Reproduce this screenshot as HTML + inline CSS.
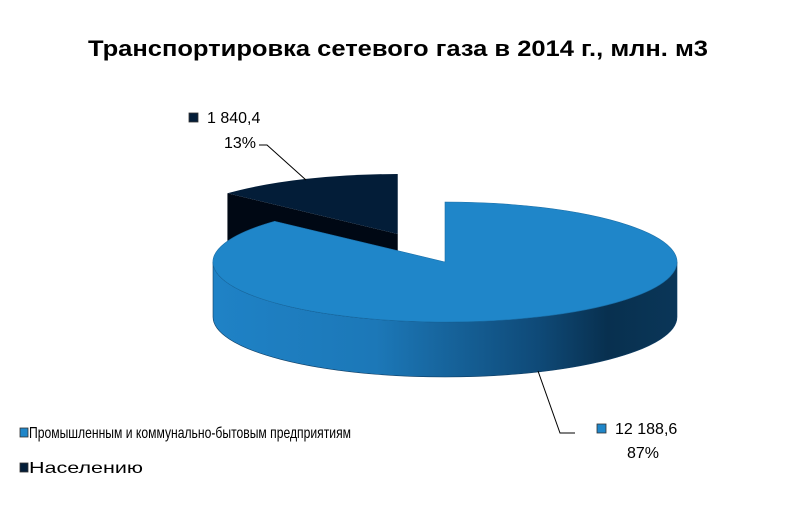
<!DOCTYPE html>
<html><head><meta charset="utf-8"><style>
body{margin:0;background:#fff;}
svg{display:block;font-family:"Liberation Sans",Arial,sans-serif;}
</style></head><body>
<svg id="chart" width="800" height="519" viewBox="0 0 800 519" xmlns="http://www.w3.org/2000/svg">
<defs>
<linearGradient id="sideGrad" x1="213" y1="0" x2="677" y2="0" gradientUnits="userSpaceOnUse">
<stop offset="0" stop-color="#1f82c6"/><stop offset="0.35" stop-color="#1c78b8"/>
<stop offset="0.7" stop-color="#0f4a78"/><stop offset="0.85" stop-color="#08304f"/><stop offset="1" stop-color="#0a3658"/>
</linearGradient>
</defs>
<text x="398" y="56" text-anchor="middle" font-size="22" font-weight="bold" fill="#000" textLength="620" lengthAdjust="spacingAndGlyphs">Транспортировка сетевого газа в 2014 г., млн. м3</text>
<g id="pie"></g>
<g id="labels"></g>
</svg>
<script>
const categories = ["Промышленным и коммунально-бытовым предприятиям", "Населению"];
const values = [12188.6, 1840.4];
const valueLabels = ["12 188,6", "1 840,4"];
const colors = ["#1f86c9", "#031d38"];

const NS = "http://www.w3.org/2000/svg";
const cx = 445, cy = 262, rx = 232, ry = 60, depth = 55, explode = 118;
const total = values.reduce((a, b) => a + b, 0);
function pt(th, ox, oy, dz) { return [cx + ox + rx * Math.sin(th), cy + oy - ry * Math.cos(th) + (dz || 0)]; }
function mk(tag, attrs, parent) { const e = document.createElementNS(NS, tag); for (const k in attrs) e.setAttribute(k, attrs[k]); parent.appendChild(e); return e; }
const pie = document.getElementById('pie');
const labels = document.getElementById('labels');

// angles clockwise from 12 o'clock
const a0 = 0, a1 = 2 * Math.PI * values[0] / total;
// small slice: from a1 to 2PI, exploded
const midS = (a1 + 2 * Math.PI) / 2;
const ox = explode * Math.sin(midS), oy = -explode * Math.cos(midS) * ry / rx;
{
  const ap = [cx + ox, cy + oy];
  const pA = pt(a1, ox, oy), pB = pt(2 * Math.PI, ox, oy);
  const side = mk('path', { d: `M${ap[0]},${ap[1]} L${pA[0]},${pA[1]} L${pA[0]},${pA[1] + depth} L${ap[0]},${ap[1] + depth} Z`, fill: '#000814' }, pie);
  
  
  const top = mk('path', { d: `M${ap[0]},${ap[1]} L${pA[0]},${pA[1]} A${rx},${ry} 0 0 1 ${pB[0]},${pB[1]} Z`, fill: colors[1] }, pie);
  
  
}
// big slice
{
  const L = [cx - rx, cy], R = [cx + rx, cy];
  const wall = mk('path', { d: `M${L[0]},${L[1]} A${rx},${ry} 0 0 0 ${R[0]},${R[1]} L${R[0]},${R[1] + depth} A${rx},${ry} 0 0 1 ${L[0]},${L[1] + depth} Z`, fill: 'url(#sideGrad)', stroke: '#0d3c63', 'stroke-width': 0.6 }, pie);
  
  
  const p0 = pt(a0, 0, 0), p1 = pt(a1, 0, 0);
  const large = (a1 - a0) > Math.PI ? 1 : 0;
  const top = mk('path', { d: `M${cx},${cy} L${p0[0]},${p0[1]} A${rx},${ry} 0 ${large} 1 ${p1[0]},${p1[1]} Z`, fill: colors[0], stroke: '#1a6fa8', 'stroke-width': 0.6 }, pie);
  
  
}
// data labels
function dataLabel(i, sx, sy, px, py, name) {
  const g = mk('g', {}, labels);
  
  
  mk('rect', { x: sx, y: sy, width: 9, height: 9, fill: colors[i], stroke: '#333', 'stroke-width': 0.8 }, g);
  const t1 = mk('text', { x: sx + 18, y: sy + 10, 'font-size': 16, fill: '#000' }, g);
  t1.textContent = valueLabels[i];
  const t2 = mk('text', { x: px, y: py, 'font-size': 16, fill: '#000', 'text-anchor': 'middle' }, g);
  t2.textContent = Math.round(values[i] / total * 100) + '%';
}
dataLabel(1, 189, 113, 240, 148, 'label-population');
dataLabel(0, 597, 424, 643, 458, 'label-industry');
let ln = mk('polyline', { points: '259,145 267,145 306,180', fill: 'none', stroke: '#000', 'stroke-width': 1 }, labels);


ln = mk('polyline', { points: '538,371 560,433 575,433', fill: 'none', stroke: '#000', 'stroke-width': 1 }, labels);


// legend
const legendY = [433, 468];
const legendW = [322, 114];
categories.forEach((c, i) => {
  const g = mk('g', {}, labels);
  
  
  mk('rect', { x: 20, y: legendY[i] - 5, width: 8, height: 9, fill: colors[i], stroke: '#333', 'stroke-width': 0.8 }, g);
  const t = mk('text', { x: 29, y: legendY[i] + 5, 'font-size': 16, fill: '#000', textLength: legendW[i], lengthAdjust: 'spacingAndGlyphs' }, g);
  t.textContent = c;
});
</script>
</body></html>
